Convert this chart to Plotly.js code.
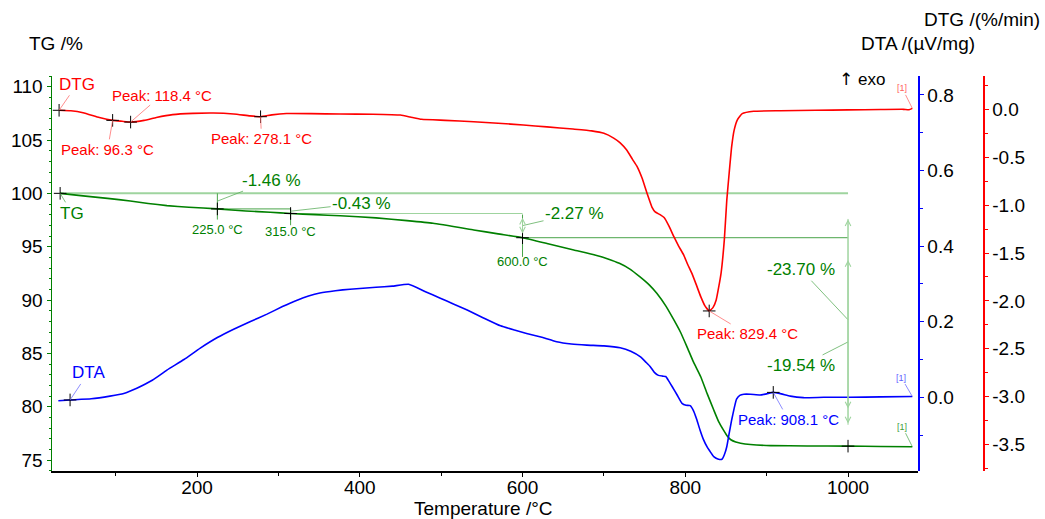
<!DOCTYPE html>
<html>
<head>
<meta charset="utf-8">
<script src="https://cdn.plot.ly/plotly-3.0.1.min.js"></script>
<style>
html, body { margin: 0; padding: 0; background: #fff; }
#chart { width: 1045px; height: 519px; }
</style>
</head>
<body>
<div id="chart"></div>
<script>
// TG /% against temperature
var tgT = [31.8, 60, 90, 118, 140, 163, 190, 225, 260, 290, 315, 345, 376, 420, 458, 490, 540, 570, 600,
           630, 663, 690, 705, 719, 732, 744, 756, 765, 776, 786, 794, 802, 810, 819, 827, 835, 841, 847,
           852, 856, 862, 868, 880, 905, 950, 1000, 1040, 1079];
var tgV = [100.00, 99.76, 99.53, 99.28, 99.05, 98.85, 98.70, 98.54, 98.35, 98.22, 98.11, 98.00, 97.90, 97.70, 97.44, 97.19, 96.57, 96.20, 95.84,
           95.30, 94.69, 94.20, 93.85, 93.44, 92.90, 92.19, 91.40, 90.63, 89.45, 88.13, 87.00, 85.63, 84.20, 82.81, 81.20, 79.69, 78.60, 77.80,
           77.20, 76.90, 76.68, 76.57, 76.45, 76.35, 76.32, 76.30, 76.27, 76.25];

// DTA /(µV/mg)
var dtaT = [29.6, 44, 70, 93, 110, 126, 145, 163, 184, 204, 225, 245, 265, 286, 305, 323, 337, 351, 370, 388, 420, 440, 460,
            480, 499, 515, 532, 552, 573, 590, 605, 625, 642, 660, 679, 700, 720, 733, 745, 752, 757, 762, 767, 772, 776,
            780, 784, 790, 796, 801, 806, 810, 814, 818, 822, 827, 831, 835, 840, 845, 848, 851, 854, 857, 860, 863, 867,
            872, 880, 892, 900, 908.1, 918, 929, 945, 970, 1002, 1040, 1079];
var dtaV = [-0.009, -0.007, -0.004, 0.003, 0.010, 0.024, 0.045, 0.072, 0.100, 0.130, 0.158, 0.180, 0.200, 0.220, 0.240, 0.257, 0.268, 0.276, 0.282, 0.286, 0.291, 0.294, 0.299,
            0.280, 0.262, 0.247, 0.231, 0.210, 0.189, 0.178, 0.169, 0.158, 0.147, 0.141, 0.138, 0.136, 0.131, 0.122, 0.107, 0.092, 0.081, 0.066, 0.058, 0.056, 0.055,
            0.042, 0.028, 0.006, -0.016, -0.021, -0.022, -0.035, -0.058, -0.086, -0.110, -0.132, -0.145, -0.157, -0.163, -0.164, -0.152, -0.131, -0.095, -0.060, -0.030, -0.005, 0.005,
            0.008, 0.008, 0.006, 0.009, 0.013, 0.009, 0.003, -0.001, 0.000, 0.000, 0.001, 0.002];

// DTG /(%/min)
var dtgT = [30.5, 45, 60, 80, 96.3, 108, 118.4, 135, 150, 170, 195, 220, 245, 265, 278.1, 292, 310, 340, 376, 416, 450,
            462, 476, 505, 540, 570, 601, 630, 662, 685, 700, 712, 720, 728, 735, 741, 747, 753, 759, 763, 769, 774,
            780, 786, 792, 798, 803, 808, 813, 819, 824, 829.4, 834, 838, 841, 844, 848, 851, 854, 857, 860, 864,
            870, 884, 917, 960, 1000, 1040, 1068, 1075, 1079];
var dtgV = [-0.010, -0.015, -0.035, -0.085, -0.115, -0.125, -0.133, -0.115, -0.085, -0.055, -0.042, -0.038, -0.048, -0.068, -0.077, -0.058, -0.044, -0.045, -0.049, -0.051, -0.060,
            -0.080, -0.104, -0.115, -0.129, -0.145, -0.164, -0.183, -0.206, -0.225, -0.250, -0.300, -0.350, -0.425, -0.520, -0.600, -0.720, -0.877, -1.020, -1.070, -1.100, -1.130,
            -1.220, -1.330, -1.430, -1.520, -1.620, -1.710, -1.820, -1.956, -2.050, -2.105, -2.070, -1.990, -1.860, -1.710, -1.360, -0.950, -0.660, -0.390, -0.220, -0.110,
            -0.045, -0.020, -0.015, -0.010, -0.006, -0.002, 0.000, -0.004, 0.010];

var dtgPeakT = [96.3, 118.4, 278.1, 829.4];
var dtgPeakV = [-0.115, -0.133, -0.077, -2.105];
var dtaPeakT = [908.1];
var dtaPeakV = [0.013];

// mass-change evaluation
var stepT = [225.0, 315.0, 600.0];
var stepLoss = [-1.46, -0.43, -2.27];
var endT = 1000;
var lastLoss = -19.54;
var totalLoss = -23.70;

var tempTicks = [200, 400, 600, 800, 1000];
var tgTicks = [75, 80, 85, 90, 95, 100, 105, 110];
var dtaTicks = [0.0, 0.2, 0.4, 0.6, 0.8];
var dtgTicks = [0.0, -0.5, -1.0, -1.5, -2.0, -2.5, -3.0, -3.5];

var FONT = 'Arial, "Liberation Sans", sans-serif';
var RED = '#ff0000', BLUE = '#0000ff', GREEN = '#008000';
var LIGHTGREEN = '#9fd49f', MIDGREEN = '#4aa44a';

var levels = [tgV[0]];
stepLoss.forEach((d, i) => levels.push(+(levels[i] + d).toFixed(2)));
var residual = +(tgV[0] + totalLoss).toFixed(2);

function curve(xs, ys, color, axis) {
    return {x: xs, y: ys, yaxis: axis, type: 'scatter', mode: 'lines',
            line: {color: color, width: 1.6, shape: 'spline', smoothing: 0.4}, hoverinfo: 'skip'};
}

function crosses(xs, ys, axis) {
    return {x: xs, y: ys, yaxis: axis, type: 'scatter', mode: 'markers', hoverinfo: 'skip',
            marker: {symbol: 'cross-thin', size: 9, line: {color: '#000', width: 1}}};
}

var crossTgT = [tgT[0]].concat(stepT, [endT]);
var crossTgV = levels.concat([residual]);

var data = [
    curve(dtaT, dtaV, BLUE, 'y2'),
    curve(tgT, tgV, GREEN, 'y'),
    curve(dtgT, dtgV, RED, 'y3'),
    crosses([dtgT[0]].concat(dtgPeakT), [dtgV[0]].concat(dtgPeakV), 'y3'),
    crosses(crossTgT, crossTgV, 'y'),
    crosses([dtaT[1]].concat(dtaPeakT), [dtaV[1]].concat(dtaPeakV), 'y2')
];

function seg(x0, y0, x1, y1, color, w) {
    return {type: 'line', xref: 'x', yref: 'y', x0: x0, y0: y0, x1: x1, y1: y1,
            layer: 'below', line: {color: color, width: w}};
}

var shapes = [
    seg(tgT[0], levels[0], endT, levels[0], LIGHTGREEN, 2),
    seg(stepT[0], levels[0], stepT[0], levels[1] - 1.0, MIDGREEN, 1),
    seg(stepT[0], levels[1], stepT[1], levels[1], MIDGREEN, 1),
    seg(stepT[1], levels[1], stepT[1], levels[2] - 1.1, MIDGREEN, 1),
    seg(stepT[1], levels[2], stepT[2], levels[2], LIGHTGREEN, 1),
    seg(stepT[2], levels[2] - 0.1, stepT[2], levels[3] - 1.8, MIDGREEN, 1),
    seg(stepT[2], levels[3], endT, levels[3], MIDGREEN, 1),
    seg(endT, levels[0] - 2.4, endT, residual + 2.0, LIGHTGREEN, 1)
];

function note(text, x, y, yref, ax, ay, color, size, arrowColor) {
    return {text: text, x: x, y: y, xref: 'x', yref: yref, ax: ax, ay: ay,
            showarrow: true, arrowhead: 0, arrowwidth: 0.8, arrowcolor: arrowColor, standoff: 0,
            font: {family: FONT, size: size, color: color}};
}

function arrow2(x, yA, yB, color) {
    return {text: '', x: x, y: yA, xref: 'x', yref: 'y', ax: x, ay: yB, axref: 'x', ayref: 'y',
            showarrow: true, arrowhead: 5, startarrowhead: 5, arrowside: 'end+start',
            arrowsize: 1.1, startarrowsize: 1.1, arrowwidth: 1, arrowcolor: color};
}

function paperText(text, x, y, xanchor, size) {
    return {text: text, x: x, y: y, xref: 'paper', yref: 'paper', xanchor: xanchor, yanchor: 'middle',
            showarrow: false, font: {family: FONT, size: size, color: '#000'}};
}

var pct = v => v.toFixed(2) + ' %';
var deg = v => v.toFixed(1) + ' °C';

var peakOffsets = [[-5, 29], [31, -27], [1, 22], [38, 23]];
var annotations = [];

dtgPeakT.forEach((t, i) => annotations.push(
    note('Peak: ' + deg(t), t, dtgPeakV[i], 'y3', peakOffsets[i][0], peakOffsets[i][1], RED, 15, '#ff7070')));
annotations.push(note('Peak: ' + deg(dtaPeakT[0]), dtaPeakT[0], dtaPeakV[0], 'y2', 15, 27, BLUE, 15, '#7070ff'));

annotations.push(note('DTG', dtgT[0], dtgV[0], 'y3', 18, -26, RED, 17, '#ff7070'));
annotations.push(note('TG', tgT[0], tgV[0], 'y', 12, 20, GREEN, 17, '#60b060'));
annotations.push(note('DTA', dtaT[1], dtaV[1], 'y2', 18, -27, BLUE, 17, '#7070ff'));

annotations.push(note('[1]', dtgT[dtgT.length - 1], dtgV[dtgV.length - 1], 'y3', -10, -20, '#ff6060', 9, '#ff7070'));
annotations.push(note('[1]', dtaT[dtaT.length - 1], dtaV[dtaV.length - 1], 'y2', -11, -19, '#6060ff', 9, '#7070ff'));
annotations.push(note('[1]', tgT[tgT.length - 1], tgV[tgV.length - 1], 'y', -10, -20, '#40a040', 9, '#60b060'));

// step labels
var labelDrop = [1.95, 1.7, 2.2];
stepT.forEach((t, i) => annotations.push({
    text: deg(t), x: t, y: levels[i + 1] - labelDrop[i], xref: 'x', yref: 'y', showarrow: false,
    font: {family: FONT, size: 13, color: GREEN}}));

var lossOffsets = [[54, -21], [71, -8], [52, -12]];
stepLoss.forEach((d, i) => annotations.push(
    note(pct(d), stepT[i], (levels[i] + levels[i + 1]) / 2, 'y', lossOffsets[i][0], lossOffsets[i][1], GREEN, 17, '#60b060')));
annotations.push(note(pct(totalLoss), endT, (levels[0] + residual) / 2, 'y', -47, -50, GREEN, 17, '#60b060'));
annotations.push(note(pct(lastLoss), endT, (levels[3] + residual) / 2, 'y', -47, 24, GREEN, 17, '#60b060'));

annotations.push(arrow2(stepT[2], levels[2] - 0.4, levels[3] + 0.25, LIGHTGREEN));
annotations.push(arrow2(endT, levels[0] - 2.43, residual + 1.98, LIGHTGREEN));
annotations.push(arrow2(endT, levels[3] - 2.09, residual + 3.39, LIGHTGREEN));

annotations.push(paperText('TG /%', -0.0272, 1.0828, 'left', 19));
annotations.push(paperText('DTG /(%/min)', 1.0631, 1.1418, 'right', 19));
annotations.push(paperText('DTA /(µV/mg)', 0.9932, 1.0828, 'right', 19));
annotations.push(paperText('<span style="font-family:DejaVu Sans">↑</span> exo', 0.8429, 0.9916, 'left', 17));
annotations.push(paperText('Temperature /°C', 0.4635, -0.094, 'center', 19));

var tickFont = {family: FONT, size: 19, color: '#000'};

var layout = {
    width: 1045, height: 519,
    margin: {l: 52, r: 62, t: 76, b: 48},
    paper_bgcolor: '#fff', plot_bgcolor: '#fff',
    showlegend: false, hovermode: false,
    font: {family: FONT},
    xaxis: {
        domain: [0, 0.9302], range: [21.8, 1086],
        tickmode: 'array', tickvals: tempTicks, ticktext: tempTicks.map(String),
        showgrid: false, zeroline: false, showline: true, linecolor: '#000', linewidth: 1.5,
        ticks: 'outside', ticklen: 4, tickcolor: '#000', tickfont: tickFont, ticklabelstandoff: -5,
        minor: {tickmode: 'linear', tick0: 0, dtick: 100, ticks: 'outside', ticklen: 3, tickcolor: '#000'}
    },
    yaxis: {
        range: [73.97, 111.0],
        tickmode: 'array', tickvals: tgTicks, ticktext: tgTicks.map(String),
        showgrid: false, zeroline: false, showline: true, linecolor: GREEN, linewidth: 1.5,
        ticks: 'outside', ticklen: 4, tickcolor: GREEN, tickfont: tickFont,
        minor: {tickmode: 'linear', tick0: 0, dtick: 1, ticks: 'outside', ticklen: 2, tickcolor: GREEN}
    },
    yaxis2: {
        overlaying: 'y', anchor: 'free', position: 0.9302, side: 'right',
        range: [-0.195, 0.85],
        tickmode: 'array', tickvals: dtaTicks, ticktext: dtaTicks.map(v => v.toFixed(1)),
        showgrid: false, zeroline: false, showline: true, linecolor: BLUE, linewidth: 1.5,
        ticks: 'outside', ticklen: 4, tickcolor: BLUE, tickfont: tickFont,
        minor: {tickmode: 'linear', tick0: 0, dtick: 0.1, ticks: 'outside', ticklen: 3, tickcolor: BLUE}
    },
    yaxis3: {
        overlaying: 'y', anchor: 'free', position: 1, side: 'right',
        range: [-3.776, 0.348],
        tickmode: 'array', tickvals: dtgTicks, ticktext: dtgTicks.map(v => v.toFixed(1)),
        showgrid: false, zeroline: false, showline: true, linecolor: RED, linewidth: 1.5,
        ticks: 'outside', ticklen: 4, tickcolor: RED, tickfont: tickFont,
        minor: {tickmode: 'linear', tick0: 0, dtick: 0.25, ticks: 'outside', ticklen: 3, tickcolor: RED}
    },
    shapes: shapes,
    annotations: annotations
};

Plotly.newPlot('chart', data, layout, {staticPlot: true, displayModeBar: false});
</script>
</body>
</html>
